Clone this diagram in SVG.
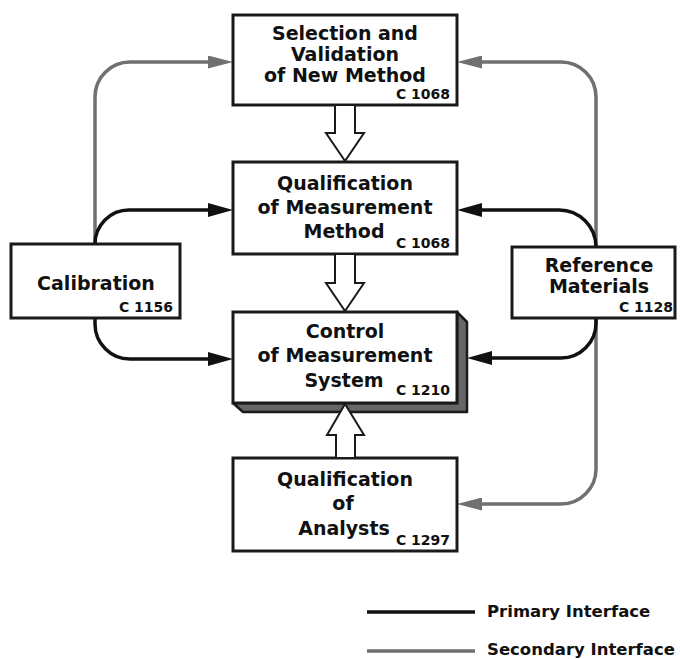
<svg xmlns="http://www.w3.org/2000/svg" width="680" height="659" viewBox="0 0 680 659">
<style>
.box{fill:#fff;stroke:#1a1a1a;stroke-width:3}
.t{font-family:"DejaVu Sans","Verdana",sans-serif;font-weight:bold;font-size:19px;fill:#111;text-anchor:middle}
.c{font-family:"DejaVu Sans","Verdana",sans-serif;font-weight:bold;font-size:14px;fill:#111;text-anchor:end}
.lg{font-family:"DejaVu Sans","Verdana",sans-serif;font-weight:bold;font-size:16.5px;fill:#111}
.p{fill:none;stroke:#111;stroke-width:3.5}
.s{fill:none;stroke:#707070;stroke-width:3.5}
.hollow{fill:#fff;stroke:#1a1a1a;stroke-width:2;stroke-linejoin:miter}
</style>
<defs>
<marker id="ap" markerUnits="userSpaceOnUse" viewBox="0 0 25 14" refX="5" refY="7" markerWidth="25" markerHeight="14" orient="auto">
<path d="M0,0 L25,7 L0,14 Z" fill="#111"/>
</marker>
<marker id="as" markerUnits="userSpaceOnUse" viewBox="0 0 25 13" refX="5" refY="6.5" markerWidth="25" markerHeight="13" orient="auto">
<path d="M0,0 L25,6.5 L0,13 Z" fill="#707070"/>
</marker>
</defs>

<g id="connectors">
<path class="s" d="M95,244 V97 A35,35 0 0 1 130,62 H213" marker-end="url(#as)"/>
<path class="s" d="M596,247 V97 A35,35 0 0 0 561,62 H477" marker-end="url(#as)"/>
<path class="s" d="M596,318 V469 A35,35 0 0 1 561,504 H477" marker-end="url(#as)"/>
<path class="p" d="M95,244 A34,34 0 0 1 129,210 H213" marker-end="url(#ap)"/>
<path class="p" d="M95,318 V324 A35,35 0 0 0 130,359 H213" marker-end="url(#ap)"/>
<path class="p" d="M596,247 A37,37 0 0 0 559,210 H477" marker-end="url(#ap)"/>
<path class="p" d="M596,318 V323 A35,35 0 0 1 561,358 H487" marker-end="url(#ap)"/>
</g>

<g id="selection">
<rect class="box" x="233" y="15" width="224" height="90"/>
<text class="t" x="345" y="40">Selection and</text>
<text class="t" x="345" y="61">Validation</text>
<text class="t" x="345" y="82">of New Method</text>
<text class="c" x="450" y="99">C 1068</text>
</g>

<g id="qualMethod">
<rect class="box" x="233" y="162" width="224" height="92"/>
<text class="t" x="345" y="190">Qualification</text>
<text class="t" x="345" y="214">of Measurement</text>
<text class="t" x="344" y="238">Method</text>
<text class="c" x="450" y="248">C 1068</text>
</g>

<g id="control">
<polygon points="457,312 467,322 467,412 243,412 233,403 457,403" fill="#666" stroke="#1a1a1a" stroke-width="2.5" stroke-linejoin="round"/>
<rect class="box" x="233" y="312" width="224" height="91"/>
<text class="t" x="345" y="338">Control</text>
<text class="t" x="345" y="362">of Measurement</text>
<text class="t" x="344" y="387">System</text>
<text class="c" x="450" y="395">C 1210</text>
</g>

<g id="calibration">
<rect class="box" x="11" y="244" width="169" height="74"/>
<text class="t" x="96" y="290">Calibration</text>
<text class="c" x="173" y="312">C 1156</text>
</g>

<g id="reference">
<rect class="box" x="512" y="247" width="163" height="71"/>
<text class="t" x="599" y="272">Reference</text>
<text class="t" x="599" y="293">Materials</text>
<text class="c" x="673" y="312">C 1128</text>
</g>

<g id="analysts">
<rect class="box" x="233" y="458" width="224" height="93"/>
<text class="t" x="345" y="486">Qualification</text>
<text class="t" x="343" y="510">of</text>
<text class="t" x="344" y="535">Analysts</text>
<text class="c" x="450" y="545">C 1297</text>
</g>

<g id="flow-arrows">
<polygon class="hollow" points="335,105 355,105 355,133 364,133 345,161 326,133 335,133"/>
<polygon class="hollow" points="335,254 355,254 355,283 364,283 345,311 326,283 335,283"/>
<polygon class="hollow" points="336,458 355,458 355,435 364,435 345,404 327,435 336,435"/>
</g>

<g id="legend">
<line x1="367" y1="612" x2="475" y2="612" stroke="#111" stroke-width="3.5"/>
<text class="lg" x="487" y="617">Primary Interface</text>
<line x1="367" y1="651" x2="475" y2="651" stroke="#707070" stroke-width="3.5"/>
<text class="lg" x="487" y="655">Secondary Interface</text>
</g>
</svg>
